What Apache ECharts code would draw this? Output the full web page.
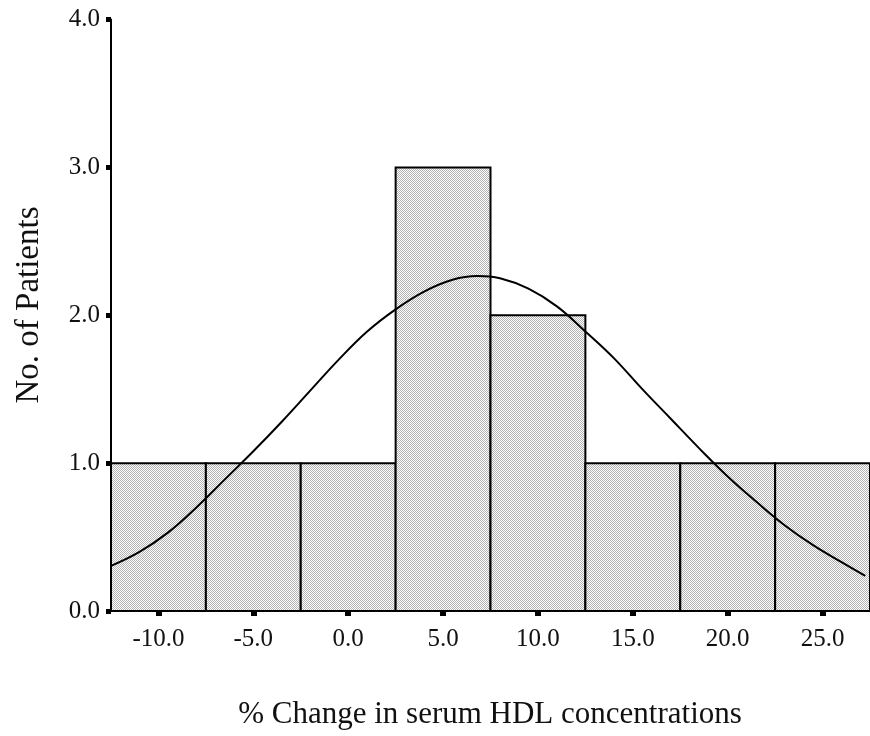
<!DOCTYPE html>
<html>
<head>
<meta charset="utf-8">
<script src="https://cdn.jsdelivr.net/npm/echarts@6/dist/echarts.min.js"></script>
<style>
  html, body { margin: 0; padding: 0; background: #fff; }
  #chart { width: 870px; height: 736px; }
</style>
</head>
<body>
<div id="chart"></div>
<script>
// Histogram bins (% change in HDL), each 5 units wide
const binStarts = [-12.5, -7.5, -2.5, 2.5, 7.5, 12.5, 17.5, 22.5];
const binEnds   = [-7.5, -2.5, 2.5, 7.5, 12.5, 17.5, 22.5, 27.5];
const counts    = [1, 1, 1, 3, 2, 1, 1, 1];

// Fitted normal curve, sampled points
const curveX = [-12.5, -11.0, -9.5, -8.0, -6.5, -5.0, -3.5, -2.0, -0.5, 1.0, 2.5, 4.0, 5.5, 6.8, 8.0, 9.5, 11.0, 12.5, 14.0, 15.5, 17.0, 18.5, 20.0, 21.5, 23.0, 24.5, 26.0, 27.25];
const curveY = [0.305, 0.40, 0.53, 0.70, 0.89, 1.08, 1.28, 1.49, 1.70, 1.89, 2.04, 2.16, 2.24, 2.265, 2.25, 2.18, 2.06, 1.89, 1.71, 1.50, 1.30, 1.10, 0.91, 0.74, 0.58, 0.445, 0.33, 0.237];

// Axis tick labels
const xTicks = [-10, -5, 0, 5, 10, 15, 20, 25];
const yTicks = [0, 1, 2, 3, 4];

// Fine checker fill for bars
const pat = document.createElement('canvas');
pat.width = 2; pat.height = 2;
const pctx = pat.getContext('2d');
pctx.fillStyle = '#ffffff'; pctx.fillRect(0, 0, 2, 2);
pctx.fillStyle = '#b2b2b2'; pctx.fillRect(0, 0, 1, 1); pctx.fillRect(1, 1, 1, 1);

const FONT = '"Liberation Serif", "DejaVu Serif", serif';

const chart = echarts.init(document.getElementById('chart'), null, { renderer: 'canvas' });

chart.setOption({
  backgroundColor: '#ffffff',
  animation: false,
  grid: { left: 111, top: 19.5, bottom: 125, width: 762 },
  xAxis: {
    type: 'value',
    min: -12.5,
    max: 27.5,
    splitLine: { show: false },
    axisLine: { show: true, onZero: false, lineStyle: { color: '#000', width: 2 } },
    axisTick: { show: true, customValues: xTicks, length: 5, lineStyle: { color: '#000', width: 6 } },
    axisLabel: {
      customValues: xTicks,
      margin: 16,
      color: '#111',
      fontFamily: FONT,
      fontSize: 25,
      formatter: v => v.toFixed(1)
    }
  },
  yAxis: {
    type: 'value',
    min: 0,
    max: 4,
    interval: 1,
    splitLine: { show: false },
    axisLine: { show: true, onZero: false, lineStyle: { color: '#000', width: 2 } },
    axisTick: { show: true, customValues: yTicks, length: 5, lineStyle: { color: '#000', width: 5 } },
    axisLabel: {
      customValues: yTicks,
      margin: 11,
      color: '#111',
      fontFamily: FONT,
      fontSize: 25,
      formatter: v => v.toFixed(1)
    }
  },
  series: [
    {
      type: 'custom',
      data: binStarts.map((s, i) => [s, binEnds[i], counts[i]]),
      encode: { x: [0, 1], y: 2 },
      renderItem: function (params, api) {
        const p0 = api.coord([api.value(0), api.value(2)]);
        const p1 = api.coord([api.value(1), 0]);
        return {
          type: 'rect',
          shape: { x: p0[0], y: p0[1], width: p1[0] - p0[0], height: p1[1] - p0[1] },
          style: { fill: { image: pat, repeat: 'repeat' }, stroke: '#000', lineWidth: 2 }
        };
      },
      z: 2
    },
    {
      type: 'line',
      data: curveX.map((x, i) => [x, curveY[i]]),
      smooth: 0.4,
      showSymbol: false,
      lineStyle: { color: '#000', width: 2 },
      z: 3
    }
  ],
  graphic: [
    {
      type: 'text',
      x: 490,
      y: 715,
      style: {
        text: '% Change in serum HDL concentrations',
        font: '31px ' + FONT,
        fill: '#111',
        align: 'center',
        verticalAlign: 'middle'
      }
    },
    {
      type: 'text',
      x: 29,
      y: 305,
      rotation: Math.PI / 2,
      style: {
        text: 'No. of Patients',
        font: '33px ' + FONT,
        fill: '#111',
        align: 'center',
        verticalAlign: 'middle'
      }
    }
  ]
});
</script>
</body>
</html>
